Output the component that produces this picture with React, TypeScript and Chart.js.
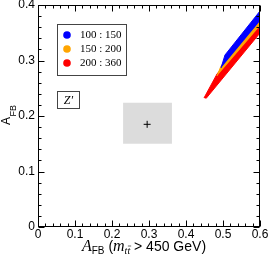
import React, { useEffect, useRef } from "react";
import { Chart, registerables } from "chart.js";
Chart.register(...registerables);

const seriesNames = ["100 : 150", "150 : 200", "200 : 360"];
const seriesColors = ["#0000ff", "#ffa500", "#ff0000"];
const blueX = [0.4946, 0.5054, 0.6, 0.6];
const blueY = [0.2865, 0.3099, 0.3892, 0.3712];
const orangeX = [0.4838, 0.4946, 0.6, 0.6];
const orangeY = [0.2721, 0.2901, 0.3766, 0.3622];
const redX = [0.4486, 0.4838, 0.6, 0.6, 0.4541];
const redY = [0.2324, 0.2757, 0.3694, 0.3495, 0.2315];
const zBoxX = [0.23, 0.362, 0.362, 0.23];
const zBoxY = [0.15, 0.15, 0.224, 0.224];
const zPointX = [0.295];
const zPointY = [0.185];
const xMajorTicks = [0, 0.1, 0.2, 0.3, 0.4, 0.5, 0.6];
const xTickLabels = ["0", "0.1", "0.2", "0.3", "0.4", "0.5", "0.6"];
const yMajorTicks = [0, 0.1, 0.2, 0.3, 0.4];
const yTickLabels = ["0", "0.1", "0.2", "0.3", "0.4"];
const minorStep = 0.02;
const modelLabel = "Z\u2032";

const SANS = "'Liberation Sans', Arial, sans-serif";
const SERIF = "'Liberation Serif', 'Times New Roman', serif";

const pts = (xs: number[], ys: number[]) => xs.map((x, i) => ({ x, y: ys[i] }));
const labelFor = (majors: number[], labels: string[]) => (v: any) => {
  const i = majors.findIndex((m) => Math.abs(m - Number(v)) < 1e-6);
  return i >= 0 ? labels[i] : "";
};
const isMajor = (majors: number[], v: number) => majors.some((m) => Math.abs(m - v) < 1e-6);

const decor = {
  id: "decor",
  afterDraw(chart: any) {
    const { ctx, chartArea: a, scales } = chart;
    const xs = scales.x;
    const ys = scales.y;
    ctx.save();
    ctx.strokeStyle = "#000";
    ctx.lineWidth = 1;
    const L = Math.round(a.left) + 0.5;
    const R = Math.round(a.right) - 0.5;
    const T = Math.round(a.top) + 0.5;
    const B = Math.round(a.bottom) - 0.5;
    ctx.strokeRect(L, T, R - L, B - T);
    ctx.beginPath();
    for (const t of xs.ticks) {
      const p = Math.round(xs.getPixelForValue(t.value)) + 0.5;
      const len = isMajor(xMajorTicks, t.value) ? 6 : 3;
      ctx.moveTo(p, B); ctx.lineTo(p, B - len);
      ctx.moveTo(p, T); ctx.lineTo(p, T + len);
    }
    for (const t of ys.ticks) {
      const p = Math.round(ys.getPixelForValue(t.value)) + 0.5;
      const len = isMajor(yMajorTicks, t.value) ? 6 : 3;
      ctx.moveTo(L, p); ctx.lineTo(L + len, p);
      ctx.moveTo(R, p); ctx.lineTo(R - len, p);
    }
    ctx.stroke();

    // legend
    ctx.strokeStyle = "#444";
    ctx.strokeRect(57.5, 24.5, 69, 51);
    ctx.textBaseline = "middle";
    ctx.textAlign = "left";
    ctx.font = `11px ${SERIF}`;
    seriesNames.forEach((n, i) => {
      const y = 35 + i * 14;
      ctx.fillStyle = seriesColors[i];
      ctx.beginPath();
      ctx.arc(67, y, 3.8, 0, Math.PI * 2);
      ctx.fill();
      ctx.fillStyle = "#000";
      ctx.fillText(n, 80, y + 0.5);
    });

    // model label box
    ctx.strokeRect(57.5, 91.5, 22, 17);
    ctx.font = `italic 12px ${SERIF}`;
    ctx.textAlign = "center";
    ctx.fillText(modelLabel, 68.5, 100.5);

    // y title
    ctx.save();
    ctx.translate(10, 125);
    ctx.rotate(-Math.PI / 2);
    ctx.textAlign = "left";
    ctx.textBaseline = "alphabetic";
    ctx.font = `12px ${SANS}`;
    ctx.fillText("A", 0, 0);
    const aw = ctx.measureText("A").width;
    ctx.font = `9px ${SANS}`;
    ctx.fillText("FB", aw + 0.5, 6);
    ctx.restore();

    // x title
    const parts: [string, string, number][] = [
      ["A", `italic 16px ${SERIF}`, 0],
      ["FB", `10px ${SANS}`, 3],
      [" (", `14px ${SANS}`, 0],
      ["m", `italic 16px ${SERIF}`, 0],
      ["tt", `italic 10px ${SERIF}`, 3],
      [" > 450 GeV)", `14px ${SANS}`, 0],
    ];
    let total = 0;
    const widths = parts.map(([s, f]) => {
      ctx.font = f;
      const w = ctx.measureText(s).width;
      total += w;
      return w;
    });
    let x = 144 - total / 2;
    const base = 251;
    ctx.textAlign = "left";
    ctx.textBaseline = "alphabetic";
    parts.forEach(([s, f, dy], i) => {
      ctx.font = f;
      ctx.fillText(s, x, base + dy);
      if (s === "tt") {
        const tw = ctx.measureText("t").width;
        ctx.beginPath();
        ctx.lineWidth = 0.8;
        ctx.moveTo(x + tw + 0.5, base + dy - 8);
        ctx.lineTo(x + 2 * tw + 1, base + dy - 8);
        ctx.stroke();
      }
      x += widths[i];
    });
    ctx.restore();
  },
};

export default function App() {
  const ref = useRef<HTMLCanvasElement>(null);
  useEffect(() => {
    if (!ref.current) return;
    const chart = new Chart(ref.current, {
      type: "scatter",
      data: {
        datasets: [
          {
            label: "SM",
            data: pts(zPointX, zPointY),
            pointStyle: "cross",
            pointRadius: 3.5,
            borderColor: "#000",
            backgroundColor: "#000",
            borderWidth: 1,
            order: 0,
          },
          {
            label: seriesNames[0],
            data: pts(blueX, blueY),
            showLine: true,
            fill: "shape",
            pointRadius: 0,
            borderWidth: 1,
            borderColor: seriesColors[0],
            backgroundColor: seriesColors[0],
            order: 1,
          },
          {
            label: seriesNames[1],
            data: pts(orangeX, orangeY),
            showLine: true,
            fill: "shape",
            pointRadius: 0,
            borderWidth: 1,
            borderColor: seriesColors[1],
            backgroundColor: seriesColors[1],
            order: 2,
          },
          {
            label: seriesNames[2],
            data: pts(redX, redY),
            showLine: true,
            fill: "shape",
            pointRadius: 0,
            borderWidth: 1,
            borderColor: seriesColors[2],
            backgroundColor: seriesColors[2],
            order: 3,
          },
          {
            label: "box",
            data: pts(zBoxX, zBoxY),
            showLine: true,
            fill: "shape",
            pointRadius: 0,
            borderWidth: 0,
            borderColor: "#dcdcdc",
            backgroundColor: "#dcdcdc",
            order: 4,
          },
        ],
      },
      options: {
        responsive: false,
        animation: false,
        events: [],
        layout: { padding: { top: 5, right: 11, left: 0, bottom: 0 } },
        plugins: { legend: { display: false }, tooltip: { enabled: false } },
        scales: {
          x: {
            type: "linear",
            min: 0,
            max: 0.6,
            grid: { display: false, drawTicks: false },
            border: { display: false },
            ticks: {
              stepSize: minorStep,
              autoSkip: false,
              maxTicksLimit: 100,
              maxRotation: 0,
              padding: 0,
              color: "#000",
              font: { family: SANS, size: 12 },
              callback: labelFor(xMajorTicks, xTickLabels),
            },
            afterFit: (s: any) => {
              s.height = 35;
              s.paddingLeft = 0;
              s.paddingRight = 0;
            },
          },
          y: {
            type: "linear",
            min: 0,
            max: 0.4,
            grid: { display: false, drawTicks: false },
            border: { display: false },
            ticks: {
              stepSize: minorStep,
              autoSkip: false,
              maxTicksLimit: 100,
              padding: 3,
              color: "#000",
              font: { family: SANS, size: 12 },
              callback: labelFor(yMajorTicks, yTickLabels),
            },
            afterFit: (s: any) => {
              s.width = 38;
              s.paddingTop = 0;
              s.paddingBottom = 0;
            },
          },
        },
      },
      plugins: [decor],
    } as any);
    return () => chart.destroy();
  }, []);
  return (
    <canvas
      ref={ref}
      width={271}
      height={262}
      style={{ position: "absolute", left: 0, top: 0, width: 271, height: 262, background: "#fff" }}
    />
  );
}
